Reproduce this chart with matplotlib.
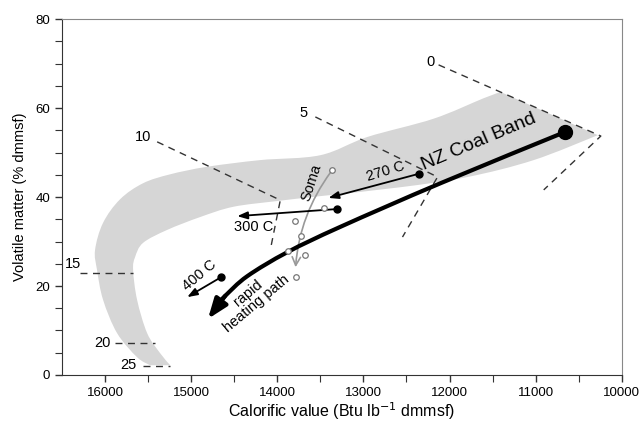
import matplotlib.pyplot as plt
from matplotlib.path import Path
from matplotlib.patches import PathPatch, FancyArrowPatch

plt.rcParams['font.family'] = ['Liberation Sans', 'DejaVu Sans']

# NZ coal band outline: tip, upper/outer edge, bottom, inner edge
band_tip = (10278, 53.9)
band_outer_x = [11406, 11604, 12185, 12953, 13500, 14197, 14814, 15244, 15558,
                15825, 16023, 16116, 16093, 16023, 15860, 15628, 15477]
band_outer_y = [63.6, 62.2, 57.6, 53.5, 49.4, 48.3, 46.8, 45.1, 43.1,
                39.5, 34.2, 28.1, 23.6, 16.9, 9.4, 4.0, 2.2]
band_inner_x = [15244, 15360, 15511, 15628, 15674, 15651, 15558, 15279, 14895,
                14511, 14000, 13500, 12569, 11790, 11022, 10278]
band_inner_y = [2.2, 4.9, 9.4, 16.9, 23.6, 26.5, 29.7, 32.6, 35.5,
                37.8, 39.1, 40.2, 42.2, 44.5, 48.3, 53.9]

# rank lines (dashed) and their labels
rank_labels = ['0', '5', '10', '15', '20', '25']
rank_x = [[12127, 10243, 10906], [13558, 12139, 12546], [15395, 13965, 14081],
          [16291, 15674], [15884, 15418], [15558, 15244]]
rank_y = [[69.7, 53.7, 41.6], [58.0, 44.5, 31.0], [52.4, 39.3, 28.1],
          [22.9, 22.9], [7.2, 7.2], [2.0, 2.0]]
rank_lab_x = [12220, 13697, 15558, 16372, 16035, 15732]
rank_lab_y = [70.3, 58.9, 53.5, 25.0, 7.2, 2.2]

# rapid heating path
path_x = [10660, 12104, 13267, 13883, 14349, 14604, 14715]
path_y = [54.6, 43.1, 33.3, 27.6, 22.2, 17.8, 15.6]
path_tip = (14805, 12.6)

# heating experiments: start, arrow end
temps = ['270 C', '300 C', '400 C']
t_start_x = [12360, 13302, 14651]
t_start_y = [45.2, 37.3, 22.0]
t_end_x = [13406, 14465, 15046]
t_end_y = [39.8, 35.7, 17.5]

# Soma samples
soma_x = [13360, 13453, 13790, 13721, 13872, 13674, 13779]
soma_y = [46.1, 37.5, 34.6, 31.2, 27.9, 27.0, 22.0]


def curve_through(pts):
    # Catmull-Rom curve through the points, as cubic bezier pieces
    verts = []
    n = len(pts)
    for i in range(n - 1):
        p0 = pts[max(i - 1, 0)]
        p1 = pts[i]
        p2 = pts[i + 1]
        p3 = pts[min(i + 2, n - 1)]
        c1 = (p1[0] + (p2[0] - p0[0]) / 6, p1[1] + (p2[1] - p0[1]) / 6)
        c2 = (p2[0] - (p3[0] - p1[0]) / 6, p2[1] - (p3[1] - p1[1]) / 6)
        verts += [c1, c2, p2]
    return verts


fig = plt.figure(figsize=(6.39, 4.23), dpi=100)
ax = fig.add_axes([0.097, 0.1135, 0.876, 0.8415])

outer = list(zip(band_outer_x, band_outer_y))
inner = list(zip(band_inner_x, band_inner_y))
verts = [band_tip, outer[0]]
codes = [Path.MOVETO, Path.LINETO]
seg = curve_through(outer)
verts += seg
codes += [Path.CURVE4] * len(seg)
verts.append(inner[0])
codes.append(Path.LINETO)
seg = curve_through(inner)
verts += seg
codes += [Path.CURVE4] * len(seg)
verts.append(band_tip)
codes.append(Path.CLOSEPOLY)
ax.add_patch(PathPatch(Path(verts, codes), facecolor='#d6d6d6', edgecolor='none', zorder=1))

for xs, ys in zip(rank_x, rank_y):
    ax.plot(xs, ys, color='#333333', lw=1.0, dashes=(5, 4), zorder=2)
for lab, lx, ly in zip(rank_labels, rank_lab_x, rank_lab_y):
    ax.text(lx, ly, lab, fontsize=10.5, ha='center', va='center', zorder=5)

hp = list(zip(path_x, path_y))
seg = curve_through(hp)
ax.add_patch(PathPatch(Path([hp[0]] + seg, [Path.MOVETO] + [Path.CURVE4] * len(seg)),
                       facecolor='none', edgecolor='black', lw=3, zorder=4))
ax.annotate('', xy=path_tip, xytext=(path_x[-2], path_y[-2]),
            arrowprops=dict(arrowstyle='-|>,head_length=1.2,head_width=0.45',
                            color='black', lw=3, shrinkA=0, shrinkB=0), zorder=4)
ax.plot(path_x[0], path_y[0], 'o', color='black', ms=10, zorder=5)

for sx, sy, ex, ey in zip(t_start_x, t_start_y, t_end_x, t_end_y):
    ax.annotate('', xy=(ex, ey), xytext=(sx, sy),
                arrowprops=dict(arrowstyle='-|>,head_length=0.6,head_width=0.22',
                                color='black', lw=1.3, shrinkA=0, shrinkB=0), zorder=4)
    ax.plot(sx, sy, 'o', color='black', ms=5, zorder=5)

ax.text(12743, 45.8, temps[0], fontsize=10.5, rotation=17, ha='center', va='center')
ax.text(14279, 33.2, temps[1], fontsize=10.5, ha='center', va='center')
ax.text(14900, 22.4, temps[2], fontsize=10.5, rotation=40, ha='center', va='center')
ax.text(14290, 17.3, 'rapid\nheating path', fontsize=10.5, rotation=40,
        ha='center', va='center', linespacing=0.95)
ax.text(11660, 52.3, 'NZ Coal Band', fontsize=14, rotation=23, ha='center', va='center')

soma = FancyArrowPatch((soma_x[0], soma_y[0]), (13790, 23.6),
                       connectionstyle='arc3,rad=0.15',
                       arrowstyle='->,head_length=6,head_width=3',
                       color='#999999', lw=1.2, zorder=3)
ax.add_patch(soma)
ax.plot(soma_x, soma_y, 'o', mfc='white', mec='#777777', ms=4, mew=0.9, zorder=6)
ax.text(13600, 43.3, 'Soma', fontsize=10.5, rotation=72, ha='center', va='center')

ax.set_xlim(16500, 10000)
ax.set_ylim(0, 80)
ax.set_xticks([16000, 15000, 14000, 13000, 12000, 11000, 10000])
ax.set_xticks(range(10500, 16500, 1000), minor=True)
ax.set_yticks([0, 20, 40, 60, 80])
ax.set_yticks(range(5, 80, 5), minor=True)
ax.tick_params(labelsize=9.5, direction='out', length=5, width=1, color='#333333')
ax.tick_params(which='minor', length=5, width=0.8, color='#333333')
for side in ['top', 'right']:
    ax.spines[side].set_color('#888888')
for side in ['left', 'bottom']:
    ax.spines[side].set_color('#333333')
ax.set_xlabel('Calorific value (Btu lb$^{-1}$ dmmsf)', fontsize=11.5, labelpad=1)
ax.set_ylabel('Volatile matter (% dmmsf)', fontsize=10.5, labelpad=6)

plt.savefig('out.png', dpi=100)
plt.close()
